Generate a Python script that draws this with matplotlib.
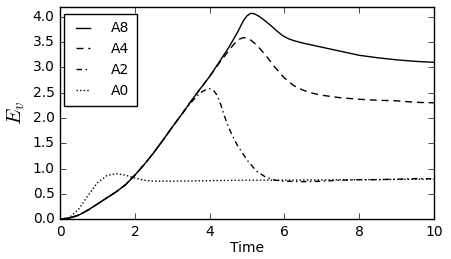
import matplotlib
matplotlib.use("Agg")
from matplotlib import pyplot as plt

# values
t_a8 = [0, 0.25, 0.5, 0.75, 1.0, 1.25, 1.5, 1.75, 2.0, 2.25, 2.5, 2.75, 3.0, 3.25, 3.5,
        3.75, 4.0, 4.25, 4.5, 4.75, 4.9, 5.0, 5.1, 5.2, 5.3, 5.4, 5.5, 5.65, 5.8, 5.95,
        6.1, 6.25, 6.5, 7.0, 7.5, 8.0, 8.5, 9.0, 9.5, 10.0]
e_a8 = [0, 0.02, 0.08, 0.18, 0.30, 0.42, 0.54, 0.68, 0.87, 1.08, 1.31, 1.56, 1.82, 2.07, 2.33,
        2.58, 2.82, 3.10, 3.38, 3.70, 3.92, 4.02, 4.07, 4.06, 4.02, 3.97, 3.91, 3.82, 3.72, 3.63,
        3.57, 3.53, 3.48, 3.40, 3.32, 3.24, 3.19, 3.15, 3.12, 3.10]

t_a4 = [0, 0.25, 0.5, 0.75, 1.0, 1.25, 1.5, 1.75, 2.0, 2.25, 2.5, 2.75, 3.0, 3.25, 3.5,
        3.75, 4.0, 4.25, 4.5, 4.65, 4.8, 4.9, 5.0, 5.1, 5.25, 5.5, 5.75, 6.0, 6.25, 6.5,
        6.75, 7.0, 7.5, 8.0, 8.5, 9.0, 9.5, 10.0]
e_a4 = [0, 0.02, 0.08, 0.18, 0.30, 0.42, 0.54, 0.68, 0.87, 1.08, 1.31, 1.56, 1.82, 2.07, 2.33,
        2.58, 2.82, 3.08, 3.32, 3.46, 3.56, 3.59, 3.58, 3.54, 3.45, 3.24, 3.00, 2.79, 2.64, 2.55,
        2.49, 2.45, 2.40, 2.37, 2.35, 2.34, 2.31, 2.30]

t_a2 = [0, 0.25, 0.5, 0.75, 1.0, 1.25, 1.5, 1.75, 2.0, 2.25, 2.5, 2.75, 3.0, 3.25, 3.5,
        3.65, 3.8, 3.9, 4.0, 4.1, 4.2, 4.3, 4.4, 4.5, 4.6, 4.75, 5.0, 5.25, 5.5, 5.75,
        6.0, 6.5, 7.0, 7.5, 8.0, 8.5, 9.0, 9.5, 10.0]
e_a2 = [0, 0.02, 0.08, 0.18, 0.30, 0.42, 0.54, 0.68, 0.87, 1.08, 1.31, 1.56, 1.82, 2.07, 2.30,
        2.43, 2.52, 2.56, 2.58, 2.55, 2.45, 2.26, 2.03, 1.83, 1.66, 1.45, 1.17, 0.95, 0.83, 0.77,
        0.75, 0.74, 0.75, 0.77, 0.78, 0.78, 0.79, 0.80, 0.80]

t_a0 = [0, 0.25, 0.5, 0.75, 1.0, 1.25, 1.5, 1.75, 2.0, 2.25, 2.5, 3.0, 3.5, 4.0, 5.0,
        6.0, 7.0, 8.0, 9.0, 10.0]
e_a0 = [0, 0.03, 0.20, 0.47, 0.72, 0.86, 0.90, 0.87, 0.81, 0.77, 0.75, 0.75, 0.755, 0.76, 0.77,
        0.77, 0.775, 0.78, 0.785, 0.79]

labels = ["A8", "A4", "A2", "A0"]

plt.style.use("classic")
plt.rcParams["font.family"] = ["DejaVu Sans"]

fig = plt.figure(figsize=(4.52, 2.59), dpi=100, facecolor="white")
ax = fig.add_axes([0.133, 0.154, 0.827, 0.820])

ax.plot(t_a8, e_a8, color="k", ls="-", lw=1.0, label=labels[0])
ax.plot(t_a4, e_a4, color="k", ls=(0, (5, 3.5)), lw=1.0, label=labels[1])
ax.plot(t_a2, e_a2, color="k", ls=(0, (4, 2.5, 1, 2.5)), lw=1.0, label=labels[2])
ax.plot(t_a0, e_a0, color="k", ls=(0, (1, 1.6)), lw=1.0, label=labels[3])

ax.set_xlim(0, 10)
ax.set_ylim(0, 4.2)
ax.set_xticks([0, 2, 4, 6, 8, 10])
ax.set_yticks([0.0, 0.5, 1.0, 1.5, 2.0, 2.5, 3.0, 3.5, 4.0])
ax.tick_params(labelsize=10)
ax.set_xlabel("Time", fontsize=10, labelpad=2)
ax.set_ylabel("$E_v$", fontsize=15, labelpad=4)

leg = ax.legend(loc="upper left", bbox_to_anchor=(0.011, 0.967), borderaxespad=0,
                fontsize=10, handlelength=1.6, handletextpad=1.2, borderpad=0.55)
leg.get_frame().set_linewidth(1.0)

fig.savefig("out.png", dpi=100, facecolor="white")
